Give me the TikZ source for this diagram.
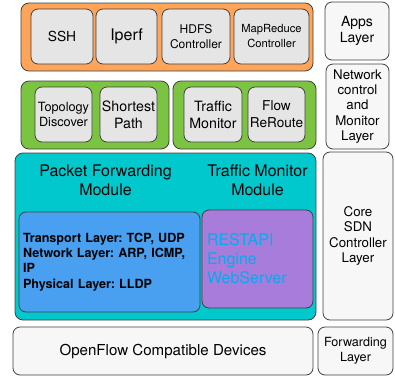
\documentclass[tikz,border=0pt]{standalone}
\usepackage{fontspec}
\setmainfont{TeX Gyre Heros}
\frenchspacing
\definecolor{appsorange}{RGB}{255,164,88}
\definecolor{ctrlgreen}{RGB}{122,196,66}
\definecolor{corecyan}{RGB}{0,200,205}
\definecolor{protoblue}{RGB}{74,160,240}
\definecolor{restpurple}{RGB}{168,124,218}
\definecolor{modgray}{RGB}{229,229,229}
\definecolor{taggray}{RGB}{247,247,247}
\tikzset{
  box/.style={draw=black!75, line width=0.8pt, rounded corners=7pt, inner sep=0pt, align=center},
  group/.style={box, rounded corners=8pt},
  mod/.style={box, fill=modgray},
  tag/.style={box, fill=taggray, font=\fontsize{13.3}{15.4}\selectfont},
}
\begin{document}
\begin{tikzpicture}[x=1pt, y=-1pt, line join=round]
\useasboundingbox (0,0) rectangle (395,380);
% applications
\node[group, fill=appsorange, minimum width=292pt, minimum height=68pt] (apps) at (167,37) {};
\node[mod, minimum width=62pt, minimum height=55pt, font=\fontsize{13.8}{16}\selectfont] (ssh) at (62,36.5) {SSH};
\node[mod, minimum width=61pt, minimum height=55pt, font=\fontsize{16}{18}\selectfont] (iperf) at (126.5,36.5) {Iperf};
\node[mod, minimum width=68pt, minimum height=55pt, font=\fontsize{12}{15}\selectfont] (hdfs) at (196,36.5) {HDFS\\Controller};
\node[mod, minimum width=75pt, minimum height=55pt, font=\fontsize{11.2}{15}\selectfont] (mapred) at (271.5,36.5) {MapReduce\\Controller};
% network control and monitoring
\node[group, fill=ctrlgreen, minimum width=148pt, minimum height=68pt] (ctrlL) at (95,115) {};
\node[mod, minimum width=57pt, minimum height=55pt, font=\fontsize{12.7}{15.5}\selectfont] (topo) at (63.5,114.5) {Topology\\Discover};
\node[mod, minimum width=57pt, minimum height=55pt, font=\fontsize{14.2}{17}\selectfont] (spath) at (128.5,114.5) {Shortest\\Path};
\node[group, fill=ctrlgreen, minimum width=143pt, minimum height=68pt] (ctrlR) at (244.5,115) {};
\node[mod, minimum width=58pt, minimum height=55pt, font=\fontsize{14.2}{17}\selectfont] (tmon) at (213,114.5) {Traffic\\Monitor};
\node[mod, minimum width=57pt, minimum height=55pt, font=\fontsize{13.6}{17}\selectfont] (reroute) at (276.5,114.5) {Flow\\ReRoute};
% core controller
\node[group, fill=corecyan, minimum width=301pt, minimum height=167pt] (core) at (165.5,236.5) {};
\node[font=\fontsize{16}{19}\selectfont, align=center, inner sep=0pt] (pfwd) at (105.5,180) {Packet Forwarding\\Module};
\node[font=\fontsize{16}{19}\selectfont, align=center, inner sep=0pt] (tmmod) at (257.5,180) {Traffic Monitor\\Module};
\node[box, fill=protoblue, minimum width=181pt, minimum height=100pt, text width=173pt, align=left,
  font=\fontsize{12.6}{15.3}\selectfont\bfseries] (proto) at (109.5,262)
  {Transport Layer: TCP, UDP\\Network Layer: ARP, ICMP,\\IP\\Physical Layer: LLDP};
\node[box, fill=restpurple, minimum width=111pt, minimum height=98pt, text width=101pt, align=left,
  text=cyan, font=\fontsize{16}{19}\selectfont] (rest) at (257.5,259) {RESTAPI\\Engine\\WebServer};
% devices
\node[box, fill=taggray, minimum width=300pt, minimum height=48pt, font=\fontsize{15.1}{18}\selectfont] (ofdev) at (163,351) {OpenFlow Compatible Devices};
% layer tags
\node[tag, minimum width=64pt, minimum height=58pt, font=\fontsize{14}{16.5}\selectfont] (appslayer) at (357,31) {Apps\\Layer};
\node[tag, minimum width=63pt, minimum height=85pt] (ctrllayer) at (357.5,106.5) {Network\\control\\and\\Monitor\\Layer};
\node[tag, minimum width=70pt, minimum height=168pt] (corelayer) at (358,236) {Core\\SDN\\Controller\\Layer};
\node[tag, minimum width=75pt, minimum height=48pt, font=\fontsize{12.6}{15}\selectfont] (fwdlayer) at (355.5,351) {Forwarding\\Layer};
\end{tikzpicture}
\end{document}
